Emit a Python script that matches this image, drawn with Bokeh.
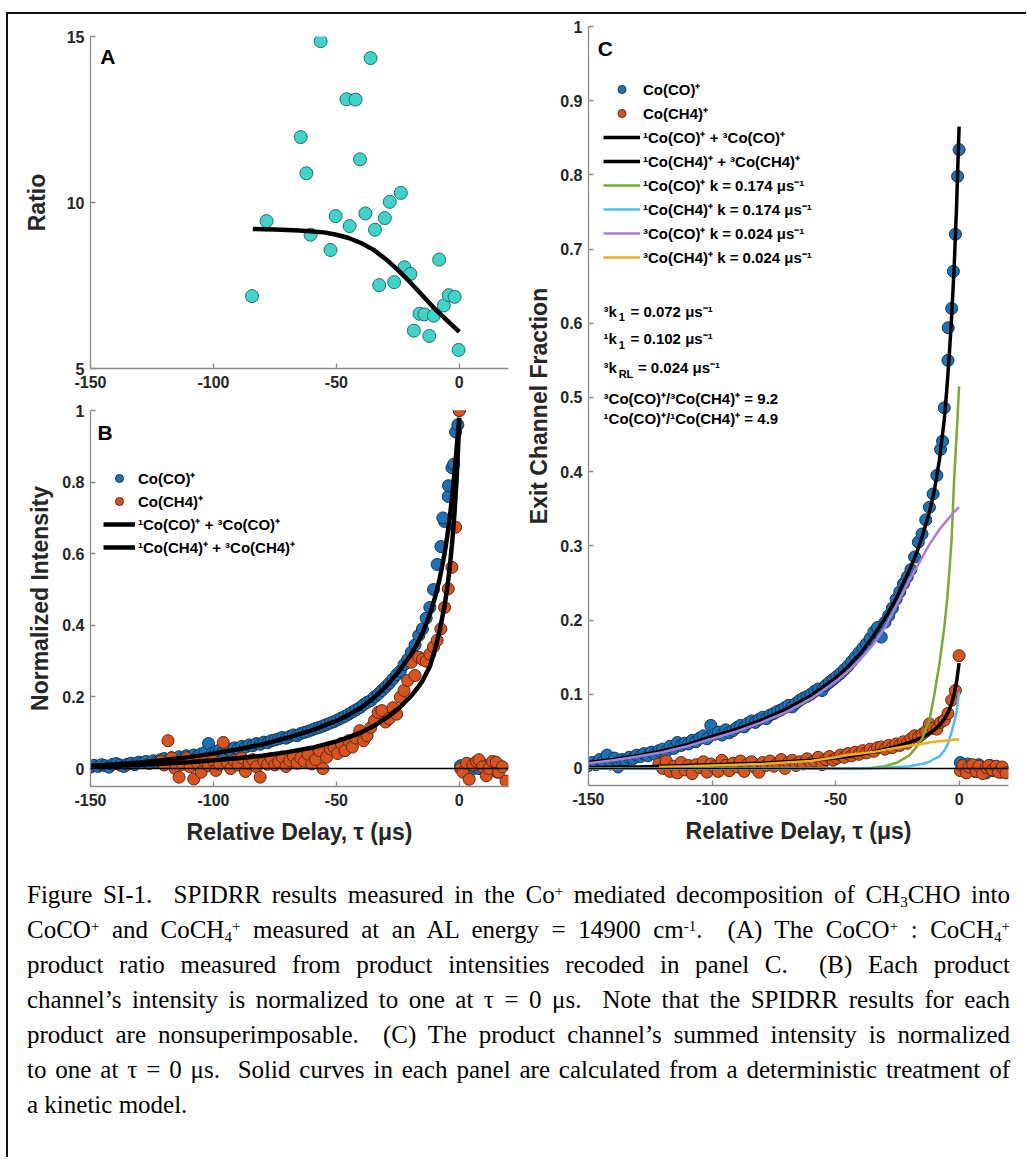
from bokeh.plotting import figure
from bokeh.models import (Range1d, FixedTicker, CustomJSTickFormatter, Legend,
                          LegendItem, Label, Span, Div)
from bokeh.layouts import row, column
from bokeh.embed import file_html
from bokeh.resources import INLINE

# ---------------- data ----------------
# Panel A: CoCO+ : CoCH4+ ratio
A_TAU = [-84.3, -78.4, -64.5, -62.2, -60.5, -56.4, -52.4, -50.3, -45.9, -44.6, -42.2,
         -40.4, -38.2, -36.1, -34.3, -32.6, -30.3, -28.3, -26.5, -23.8, -22.3, -19.9,
         -18.5, -16.2, -14.2, -12.2, -10.4, -8.2, -6.3, -4.3, -1.9, -0.3]
A_RATIO = [7.18, 9.44, 11.97, 10.88, 9.03, 14.86, 8.57, 9.59, 13.11, 9.29, 13.1,
           11.3, 9.67, 14.35, 9.18, 7.51, 9.53, 10.02, 7.6, 10.29, 8.05, 7.85,
           6.14, 6.65, 6.63, 5.98, 6.59, 8.28, 6.9, 7.21, 7.16, 5.56]
A_FIT_TAU = [-84, -75, -65, -55, -50, -45, -40, -35, -30, -25, -20, -15, -10, -5, 0]
A_FIT = [9.2, 9.19, 9.16, 9.1, 9.03, 8.93, 8.78, 8.58, 8.3, 7.97, 7.6, 7.2, 6.8, 6.45, 6.1]

# Co(CO)+ delays (panels B and C)
CO_TAU = [-150.0, -148.5, -147.0, -145.5, -144.0, -142.5, -141.0, -139.5, -138.0, -136.5,
          -135.0, -133.5, -132.0, -130.5, -129.0, -127.5, -126.0, -124.5, -123.0, -121.5,
          -120.0, -118.5, -117.0, -115.5, -114.0, -112.5, -111.0, -109.5, -108.0, -106.5,
          -105.0, -103.5, -102.0, -100.5, -99.0, -97.5, -96.0, -94.5, -93.0, -91.5,
          -90.0, -88.5, -87.0, -85.5, -84.0, -82.5, -81.0, -79.5, -78.0, -76.5,
          -75.0, -73.5, -72.0, -70.5, -69.0, -67.5, -66.0, -64.5, -63.0, -61.5,
          -60.0, -58.5, -57.0, -55.5, -54.0, -52.5, -51.0, -49.5, -48.0, -46.5,
          -45.0, -43.5, -42.0, -40.5, -39.0, -37.5, -36.0, -34.5, -33.0, -31.5,
          -30.0, -28.5, -27.0, -25.5, -24.0, -22.5, -21.0, -19.5, -18.0, -16.5,
          -15.0, -13.5, -12.0, -10.5, -9.0, -7.5, -6.0, -4.5, -3.0, -1.5, 0.0,
          -0.6, -2.3, -4.4, -6.7,
          0.5, 1.5, 2.5, 3.5, 5.0, 6.5, 8.0, 9.5, 11.0, 12.5, 14.0, 15.5, 17.0]
B_CO = [0.004, 0.009, 0.006, 0.011, 0.008, 0.004, 0.012, 0.014, 0.01, 0.006,
        0.012, 0.015, 0.011, 0.018, 0.016, 0.02, 0.014, 0.022, 0.019, 0.025,
        0.028, 0.023, 0.03, 0.026, 0.033, 0.029, 0.036, 0.032, 0.038, 0.034,
        0.041, 0.045, 0.07, 0.043, 0.048, 0.052, 0.047, 0.055, 0.051, 0.058,
        0.056, 0.062, 0.06, 0.066, 0.064, 0.07, 0.068, 0.074, 0.072, 0.078,
        0.08, 0.083, 0.087, 0.085, 0.09, 0.094, 0.092, 0.098, 0.101, 0.104,
        0.108, 0.112, 0.115, 0.119, 0.123, 0.127, 0.131, 0.136, 0.141, 0.146,
        0.152, 0.158, 0.164, 0.17, 0.178, 0.185, 0.19, 0.2, 0.208, 0.218,
        0.228, 0.238, 0.25, 0.262, 0.272, 0.29, 0.305, 0.325, 0.345, 0.372,
        0.39, 0.42, 0.45, 0.5, 0.57, 0.62, 0.69, 0.76, 0.84, 0.94, 1.0,
        0.96, 0.85, 0.79, 0.70,
        0.008, -0.005, 0.004, 0.01, -0.003, 0.006, 0.0, 0.012, -0.006, 0.004, 0.009, -0.01, 0.005]
C_CO = [0.004, 0.008, 0.005, 0.012, 0.009, 0.018, 0.006, 0.014, 0.002, 0.012,
        0.011, 0.015, 0.013, 0.018, 0.016, 0.02, 0.017, 0.022, 0.019, 0.024,
        0.026, 0.023, 0.03, 0.027, 0.035, 0.031, 0.034, 0.033, 0.038, 0.036,
        0.041, 0.044, 0.04, 0.058, 0.046, 0.049, 0.045, 0.052, 0.048, 0.051,
        0.055, 0.058, 0.056, 0.061, 0.064, 0.062, 0.066, 0.069, 0.067, 0.072,
        0.074, 0.077, 0.079, 0.082, 0.085, 0.083, 0.088, 0.092, 0.095, 0.097,
        0.1, 0.104, 0.107, 0.105, 0.112, 0.116, 0.12, 0.124, 0.128, 0.133,
        0.138, 0.144, 0.15, 0.156, 0.162, 0.168, 0.175, 0.184, 0.19, 0.177,
        0.197, 0.206, 0.216, 0.228, 0.238, 0.249, 0.258, 0.268, 0.285, 0.305,
        0.316, 0.335, 0.352, 0.37, 0.395, 0.43, 0.486, 0.55, 0.62, 0.72, 0.834,
        0.798, 0.67, 0.594, 0.441,
        0.008, 0.003, -0.002, 0.006, 0.001, -0.004, 0.005, 0.0, -0.006, 0.004, -0.003, 0.002, -0.005]

# Co(CH4)+ delays (panels B and C)
CH4_TAU = [-121.5, -120.0, -118.5, -117.0, -115.5, -114.0, -112.5, -111.0, -109.5, -108.0,
           -106.5, -105.0, -103.5, -102.0, -100.5, -99.0, -97.5, -96.0, -94.5, -93.0,
           -91.5, -90.0, -88.5, -87.0, -85.5, -84.0, -82.5, -81.0, -79.5, -78.0,
           -76.5, -75.0, -73.5, -72.0, -70.5, -69.0, -67.5, -66.0, -64.5, -63.0,
           -61.5, -60.0, -58.5, -57.0, -55.5, -54.0, -52.5, -51.0, -49.5, -48.0,
           -46.5, -45.0, -43.5, -42.0, -40.5, -39.0, -37.5, -36.0, -34.5, -33.0,
           -31.5, -30.0, -28.5, -27.0, -25.5, -24.0, -22.5, -21.0, -19.5, -18.0,
           -16.5, -15.0, -13.5, -12.0, -10.5, -9.0, -7.5, -6.0, -4.5, -3.0, -1.5, 0.0,
           0.5, 1.5, 3.0, 4.0, 5.5, 7.0, 8.0, 9.5, 11.0, 12.0, 13.5, 15.0, 16.0, 17.5, 19.0]
B_CH4 = [0.02, 0.01, 0.078, 0.03, 0.0, -0.024, 0.012, 0.03, 0.005, -0.029,
         0.015, -0.01, 0.02, 0.008, 0.025, -0.005, 0.012, 0.073, 0.018, 0.0,
         0.022, 0.01, 0.03, -0.008, 0.015, 0.025, 0.005, -0.024, 0.02, 0.012,
         0.028, 0.01, 0.018, 0.032, 0.006, 0.022, 0.035, 0.015, 0.03, 0.02,
         0.04, 0.013, 0.025, 0.05, 0.0, 0.032, 0.055, 0.06, 0.042, 0.07,
         0.05, 0.078, 0.06, 0.085, 0.106, 0.078, 0.092, 0.115, 0.134, 0.157,
         0.162, 0.13, 0.14, 0.17, 0.152, 0.199, 0.218, 0.246, 0.297, 0.26,
         0.311, 0.305, 0.3, 0.32, 0.34, 0.358, 0.39, 0.45, 0.502, 0.562, 0.674, 1.0,
         0.0, -0.01, 0.015, -0.03, 0.01, 0.02, 0.025, 0.005, -0.02, 0.0, 0.02, 0.018, -0.01, 0.005, -0.035]
C_CH4 = [0.006, 0.0, 0.01, -0.004, 0.003, -0.006, 0.008, -0.002, 0.004, -0.007,
         0.005, 0.001, 0.009, -0.005, 0.006, 0.002, -0.004, 0.011, 0.004, -0.003,
         0.007, 0.002, 0.01, -0.004, 0.006, 0.009, 0.001, -0.005, 0.008, 0.004,
         0.01, 0.003, 0.007, 0.012, 0.0, 0.008, 0.011, 0.004, 0.009, 0.006,
         0.013, 0.007, 0.01, 0.015, 0.005, 0.012, 0.016, 0.011, 0.014, 0.018,
         0.015, 0.02, 0.017, 0.022, 0.019, 0.024, 0.021, 0.026, 0.023, 0.028,
         0.029, 0.026, 0.031, 0.028, 0.033, 0.031, 0.036, 0.034, 0.04, 0.044,
         0.042, 0.046, 0.05, 0.06, 0.054, 0.053, 0.062, 0.065, 0.074, 0.092, 0.105, 0.152,
         -0.003, 0.004, -0.006, 0.002, 0.005, -0.004, 0.003, -0.007, 0.001, 0.004, -0.002, 0.003, -0.005, 0.002, -0.006]

# model curves
FIT_TAU = [-150, -140, -130, -120, -110, -100, -90, -80, -70, -60, -50, -45, -40, -35, -30,
           -25, -20, -17, -15, -12, -10, -8, -6, -5, -4, -3, -2, -1, 0]
B_FIT_CO = [0.008, 0.012, 0.017, 0.024, 0.032, 0.042, 0.054, 0.068, 0.086, 0.107, 0.133, 0.15,
            0.17, 0.196, 0.228, 0.268, 0.315, 0.35, 0.378, 0.43, 0.475, 0.53, 0.6, 0.645, 0.695,
            0.755, 0.825, 0.9, 0.98]
B_FIT_CH4 = [0.006, 0.008, 0.011, 0.014, 0.018, 0.023, 0.029, 0.036, 0.046, 0.058, 0.076, 0.087,
             0.101, 0.118, 0.14, 0.166, 0.2, 0.225, 0.245, 0.285, 0.33, 0.385, 0.455, 0.5, 0.555,
             0.625, 0.71, 0.82, 0.97]
C_FIT_CO = [0.008, 0.012, 0.017, 0.024, 0.032, 0.043, 0.053, 0.065, 0.08, 0.098, 0.122, 0.137,
            0.155, 0.177, 0.202, 0.232, 0.268, 0.292, 0.312, 0.345, 0.375, 0.415, 0.47, 0.51,
            0.555, 0.61, 0.675, 0.76, 0.865]
C_FIT_CH4 = [0.001, 0.002, 0.002, 0.003, 0.004, 0.005, 0.006, 0.007, 0.009, 0.011, 0.014, 0.016,
             0.019, 0.022, 0.026, 0.03, 0.035, 0.039, 0.042, 0.047, 0.052, 0.058, 0.066, 0.072,
             0.079, 0.088, 0.1, 0.117, 0.142]
C_S1_CO = [0, 0, 0, 0, 0, 0, 0, 0, 0, 0, 0, 0, 0, 0.001, 0.003, 0.008, 0.018, 0.03, 0.04,
           0.065, 0.1, 0.14, 0.19, 0.222, 0.262, 0.31, 0.39, 0.45, 0.515]
C_S1_CH4 = [0, 0, 0, 0, 0, 0, 0, 0, 0, 0, 0, 0, 0, 0.0, 0.001, 0.002, 0.003, 0.005, 0.006,
            0.009, 0.013, 0.016, 0.024, 0.03, 0.038, 0.05, 0.062, 0.076, 0.103]
C_T3_CO = [0.007, 0.011, 0.016, 0.022, 0.03, 0.04, 0.05, 0.062, 0.076, 0.094, 0.117, 0.131,
           0.147, 0.166, 0.19, 0.222, 0.255, 0.272, 0.284, 0.302, 0.312, 0.322, 0.33, 0.334,
           0.338, 0.342, 0.346, 0.349, 0.352]
T3_CH4_TAU = [-121.5, -110, -100, -90, -80, -70, -60, -50, -45, -40, -35, -30, -25, -20, -17,
              -15, -12, -10, -8, -6, -5, -4, -3, -2, -1, 0]
C_T3_CH4 = [0.002, 0.003, 0.004, 0.005, 0.006, 0.008, 0.01, 0.015, 0.018, 0.02, 0.022, 0.025,
            0.028, 0.031, 0.032, 0.033, 0.035, 0.036, 0.037, 0.037, 0.038, 0.038, 0.038, 0.039,
            0.039, 0.039]

# ticks
X_TICKS = [-150, -100, -50, 0]
A_Y_TICKS = [5, 10, 15]
B_Y_TICKS = [0, 0.2, 0.4, 0.6, 0.8, 1]
C_Y_TICKS = [0, 0.1, 0.2, 0.3, 0.4, 0.5, 0.6, 0.7, 0.8, 0.9, 1]

LEG_B = ["Co(CO)⁺", "Co(CH4)⁺", "¹Co(CO)⁺ + ³Co(CO)⁺", "¹Co(CH4)⁺ + ³Co(CH4)⁺"]
LEG_C = LEG_B + ["¹Co(CO)⁺ k = 0.174 μs⁻¹", "¹Co(CH4)⁺ k = 0.174 μs⁻¹",
                 "³Co(CO)⁺ k = 0.024 μs⁻¹", "³Co(CH4)⁺ k = 0.024 μs⁻¹"]

CAPTION_LINES = [
    "Figure SI-1.&nbsp; SPIDRR results measured in the Co{+} mediated decomposition of CH{_3}CHO into",
    "CoCO{+} and CoCH{_4}{+} measured at an AL energy = 14900 cm{-1}.&nbsp; (A) The CoCO{+} : CoCH{_4}{+}",
    "product ratio measured from product intensities recoded in panel C.&nbsp; (B) Each product",
    "channel’s intensity is normalized to one at τ = 0 μs.&nbsp; Note that the SPIDRR results for each",
    "product are nonsuperimposable.&nbsp; (C) The product channel’s summed intensity is normalized",
    "to one at τ = 0 μs.&nbsp; Solid curves in each panel are calculated from a deterministic treatment of",
    "a kinetic model.",
]

# ---------------- style ----------------
SANS = "Liberation Sans"
AX_GRAY = "#8c8c8c"
TXT = "#262626"
BLUE, BLUE_EDGE = "#1a73b9", "#1a334d"
ORANGE, ORANGE_EDGE = "#d9531e", "#5c2a12"
TEAL, TEAL_EDGE = "#3fd3c9", "#22706b"
GREEN, CYAN, PURPLE, GOLD = "#77ac30", "#4dbeee", "#b07ed9", "#edb120"


def make_fig(w, h, left, right, top, bottom, xr, yr):
    p = figure(width=w, height=h, x_range=Range1d(*xr), y_range=Range1d(*yr),
               output_backend="svg", toolbar_location=None,
               min_border_left=left, min_border_right=right,
               min_border_top=top, min_border_bottom=bottom)
    p.grid.visible = False
    p.outline_line_color = None
    p.background_fill_color = "white"
    p.border_fill_color = "white"
    return p


def style_axes(p, yticks, ylabel, y_std, xlabel=None, x_std=8):
    fmt = CustomJSTickFormatter(code="return tick.toString();")
    p.xaxis.ticker = FixedTicker(ticks=X_TICKS)
    p.yaxis.ticker = FixedTicker(ticks=yticks)
    for ax in (p.xaxis[0], p.yaxis[0]):
        ax.formatter = fmt
        ax.axis_line_color = AX_GRAY
        ax.axis_line_width = 1.3
        ax.major_tick_line_color = AX_GRAY
        ax.major_tick_line_width = 1.3
        ax.major_tick_in = 5
        ax.major_tick_out = 0
        ax.minor_tick_line_color = None
        ax.major_label_text_font = SANS
        ax.major_label_text_font_style = "bold"
        ax.major_label_text_font_size = "16px"
        ax.major_label_text_color = TXT
        ax.axis_label_text_font = SANS
        ax.axis_label_text_font_style = "bold"
        ax.axis_label_text_font_size = "23px"
        ax.axis_label_text_color = TXT
    p.yaxis.major_label_standoff = 6
    p.xaxis.major_label_standoff = 7
    p.yaxis.axis_label = ylabel
    p.yaxis.axis_label_standoff = y_std
    if xlabel:
        p.xaxis.axis_label = xlabel
        p.xaxis.axis_label_standoff = x_std


def panel_letter(p, x, y, t):
    p.add_layout(Label(x=x, y=y, text=t, text_font=SANS, text_font_style="bold",
                       text_font_size="21px", text_baseline="middle", text_color="black"))


def style_legend(leg, gw):
    leg.label_text_font = SANS
    leg.label_text_font_style = "bold"
    leg.label_text_font_size = "15px"
    leg.label_text_color = "black"
    leg.glyph_width = gw
    leg.glyph_height = 20
    leg.label_standoff = 3
    leg.spacing = 0
    leg.padding = 0
    leg.margin = 0
    leg.border_line_color = None
    leg.background_fill_alpha = 0


XLAB = "Relative Delay, τ (μs)"

# ---------------- panel A ----------------
pA = make_fig(510, 381, 82, 10, 22, 27, (-150, 20), (5, 15))
style_axes(pA, A_Y_TICKS, "Ratio", 14)
pA.scatter(A_TAU, A_RATIO, size=13, fill_color=TEAL, line_color=TEAL_EDGE, line_width=1)
pA.line(A_FIT_TAU, A_FIT, line_color="black", line_width=4.5)
panel_letter(pA, -146, 14.4, "A")

# ---------------- panel B ----------------
pB = make_fig(510, 457, 82, 10, 15, 66, (-150, 20), (-0.05, 1))
style_axes(pB, B_Y_TICKS, "Normalized Intensity", 6, XLAB, 10)
rb1 = pB.scatter(CO_TAU, B_CO, size=12, fill_color=BLUE, line_color=BLUE_EDGE, line_width=1)
rb2 = pB.scatter(CH4_TAU, B_CH4, size=12, fill_color=ORANGE, line_color=ORANGE_EDGE, line_width=1)
pB.add_layout(Span(location=0, dimension="width", line_color="black", line_width=1.5))
rb3 = pB.line(FIT_TAU, B_FIT_CO, line_color="black", line_width=4.5)
rb4 = pB.line(FIT_TAU, B_FIT_CH4, line_color="black", line_width=4.5)
panel_letter(pB, -147.2, 0.939, "B")
legB = Legend(items=[LegendItem(label=LEG_B[i], renderers=[r])
                     for i, r in enumerate([rb1, rb2, rb3, rb4])],
              location=(13, 228), label_height=23)
style_legend(legB, 32)
pB.add_layout(legB)

# ---------------- panel C ----------------
pC = make_fig(501, 838, 70, 11, 12, 67, (-150, 20), (-0.023, 1))
style_axes(pC, C_Y_TICKS, "Exit Channel Fraction", 5, XLAB, 10)
rc1 = pC.scatter(CO_TAU, C_CO, size=12, fill_color=BLUE, line_color=BLUE_EDGE, line_width=1)
rc2 = pC.scatter(CH4_TAU, C_CH4, size=12, fill_color=ORANGE, line_color=ORANGE_EDGE, line_width=1)
pC.add_layout(Span(location=0, dimension="width", line_color="black", line_width=1.5))
rc3 = pC.line(FIT_TAU, C_FIT_CO, line_color="black", line_width=3.5)
rc4 = pC.line(FIT_TAU, C_FIT_CH4, line_color="black", line_width=3.5)
rc5 = pC.line(FIT_TAU, C_S1_CO, line_color=GREEN, line_width=2.5)
rc6 = pC.line(FIT_TAU, C_S1_CH4, line_color=CYAN, line_width=2.5)
rc7 = pC.line(FIT_TAU, C_T3_CO, line_color=PURPLE, line_width=2.5)
rc8 = pC.line(T3_CH4_TAU, C_T3_CH4, line_color=GOLD, line_width=2.5)
panel_letter(pC, -146.3, 0.970, "C")
legC = Legend(items=[LegendItem(label=LEG_C[i], renderers=[r])
                     for i, r in enumerate([rc1, rc2, rc3, rc4, rc5, rc6, rc7, rc8])],
              location=(15, 516), label_height=24)
style_legend(legC, 37)
pC.add_layout(legC)


def ctext(x, y, t, size="15px"):
    pC.add_layout(Label(x=x, y=y, text=t, text_font=SANS, text_font_style="bold",
                        text_font_size=size, text_baseline="middle", text_color="black"))


ctext(-143.9, 0.616, "³k")
ctext(-137.8, 0.608, "1", "11px")
ctext(-133.0, 0.616, "= 0.072 μs⁻¹")
ctext(-143.9, 0.579, "¹k")
ctext(-137.8, 0.571, "1", "11px")
ctext(-133.0, 0.579, "= 0.102 μs⁻¹")
ctext(-143.9, 0.540, "³k")
ctext(-137.8, 0.532, "RL", "11px")
ctext(-130.0, 0.540, "= 0.024 μs⁻¹")
ctext(-143.9, 0.499, "³Co(CO)⁺/³Co(CH4)⁺ = 9.2")
ctext(-143.9, 0.471, "¹Co(CO)⁺/¹Co(CH4)⁺ = 4.9")

# ---------------- caption ----------------
SUP = '<span style="font-size:15px;vertical-align:0.45em;line-height:0">'
SUB = '<span style="font-size:15px;vertical-align:-0.25em;line-height:0">'


def fmt_line(s):
    s = s.replace("{+}", SUP + "+</span>").replace("{-1}", SUP + "-1</span>")
    s = s.replace("{_3}", SUB + "3</span>").replace("{_4}", SUB + "4</span>")
    return s


rows_html = []
for i, ln in enumerate(CAPTION_LINES):
    last = i == len(CAPTION_LINES) - 1
    align = "text-align:left;" if last else "text-align:justify;text-align-last:justify;"
    rows_html.append(f'<div style="{align}white-space:normal;">{fmt_line(ln)}</div>')
cap_html = ('<div style="font-family:\'Liberation Serif\',\'Times New Roman\',serif;'
            'font-size:25px;line-height:35px;color:#000;padding:25px 9px 0 19px;'
            'box-sizing:border-box;width:1011px;">' + "".join(rows_html) + "</div>")
caption = Div(text=cap_html, width=1018, height=305, margin=0)

layout = column(row(column(pA, pB, spacing=0), pC, spacing=0), caption, spacing=0,
                margin=(12, 0, 0, 6),
                styles={"border-top": "2px solid #111", "border-left": "2px solid #111"})

open("out.html", "w").write(file_html(layout, INLINE))
